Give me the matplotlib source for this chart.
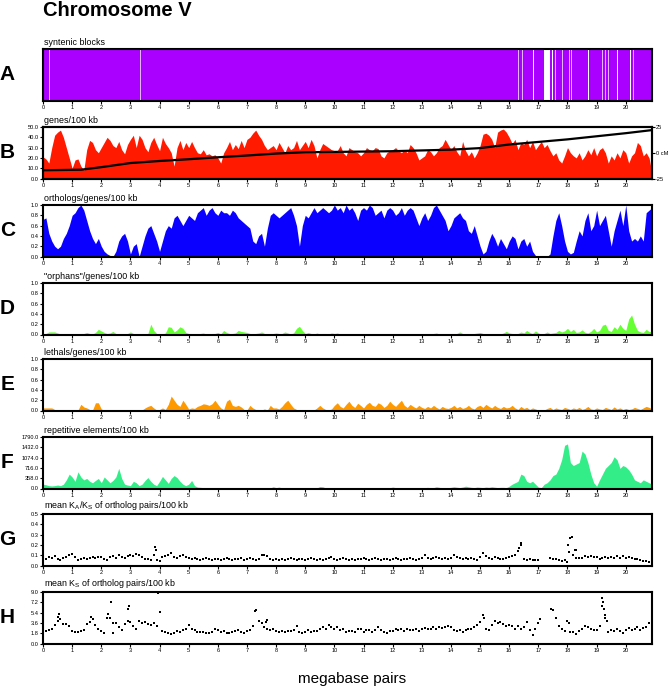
import numpy as np
import matplotlib
matplotlib.use("Agg")
from matplotlib import pyplot as plt

plt.rcParams['font.family'] = ['Liberation Sans', 'DejaVu Sans']
plt.rcParams['mathtext.default'] = 'regular'

# positions along chromosome, Mb (one bin every 100 kb)
mb = np.round(np.arange(0, 21.0, 0.1), 1)

# A: syntenic block breaks (start Mb, width Mb, full white or pale)
gap_start = [0.21, 1.05, 3.33, 16.31, 16.44, 16.83, 17.19, 17.46, 17.56, 17.80,
             18.04, 18.12, 18.21, 18.31, 18.70, 19.20, 19.28, 19.39, 19.69, 20.15, 20.26]
gap_width = [0.03, 0.03, 0.03, 0.03, 0.04, 0.03, 0.20, 0.03, 0.03, 0.03,
             0.03, 0.03, 0.03, 0.03, 0.04, 0.03, 0.03, 0.03, 0.03, 0.04, 0.03]
gap_pale = [1, 1, 1, 1, 1, 0, 0, 0, 1, 1,
            1, 1, 0, 0, 0, 1, 1, 1, 0, 0, 1]

# B: genes / 100 kb
genes = [21,19,15,30,42,45,47,40,30,20,
         10,18,19,12,8,28,37,35,28,25,
         30,35,40,37,32,30,36,28,24,33,
         38,42,30,42,38,30,26,35,40,33,
         27,40,34,30,25,12,30,37,28,35,
         30,36,30,25,24,28,23,24,22,23,
         20,15,25,30,36,28,33,29,37,30,
         38,40,44,47,42,38,32,28,30,32,
         28,35,30,25,32,28,30,37,28,32,
         36,30,38,32,20,28,34,32,30,28,
         27,27,32,25,22,30,28,26,25,22,
         25,30,28,27,30,29,22,20,25,27,
         28,30,27,25,28,25,33,30,25,18,
         20,22,28,26,22,25,30,32,38,33,
         28,32,26,22,36,27,22,26,20,25,
         32,43,44,42,38,30,45,47,48,45,
         40,34,38,28,35,33,38,30,36,28,
         32,36,30,33,27,22,25,18,15,22,
         30,25,22,20,25,18,22,28,23,30,
         22,28,30,25,15,22,18,25,20,28,
         25,15,22,25,35,32,22,25,20,5]

# genetic map, cM
map_mb = [0, 1.3, 2.0, 3.0, 4.0, 5.0, 6.0, 7.0, 8.0, 9.0, 10.0, 12.0, 14.0, 15.0,
          16.0, 17.0, 18.0, 19.0, 20.0, 20.9]
map_cm = [-17, -16.5, -14, -10, -8, -6.3, -4.4, -2.7, -0.8, 0.5, 0.8, 1.5, 3, 4.5,
          8, 10.5, 13, 16, 19, 22]

# C: orthologs / genes
orthologs = [.72,.75,.45,.30,.20,.15,.20,.35,.45,.60,
             .80,.85,.95,1.0,.90,.70,.50,.35,.25,.35,
             .20,.10,.05,.02,.00,.10,.30,.40,.45,.30,
             .05,.20,.25,.00,.20,.40,.55,.60,.45,.30,
             .10,.30,.50,.60,.55,.75,.80,.70,.60,.70,
             .80,.75,.70,.85,.90,.95,.80,.90,.95,.85,
             .80,.90,.85,.85,.80,.90,.85,.75,.70,.65,
             .60,.55,.30,.25,.40,.45,.20,.55,.80,.85,
             .80,.75,.80,.85,.90,.95,.80,.60,.20,.60,
             .80,.75,.85,.95,.85,.90,.95,.90,.85,.90,
             1.0,.90,.95,.85,1.0,.90,.95,.85,.70,.90,
             .95,.90,1.0,.95,.80,.85,.90,.75,.90,.95,
             .90,.80,.85,.95,.80,.90,.95,.90,.75,.60,
             .75,.85,.70,.80,.95,1.0,.90,.80,.70,.50,
             .60,.75,.80,.85,.75,.70,.50,.45,.60,.40,
             .20,.05,.10,.30,.45,.35,.20,.35,.25,.15,
             .30,.40,.35,.15,.30,.35,.20,.30,.10,.02,
             .01,0,0,0,.05,.40,.70,.85,.60,.30,
             .10,.05,.08,.30,.50,.40,.70,.85,.50,.60,
             .90,.60,.70,.80,.50,.20,.50,.70,.90,.60,
             1.0,.50,.30,.35,.30,.40,.30,.85,.90,.95]

# D: "orphans" / genes
orphans = [.00,.02,.05,.05,.05,.03,.01,.01,.01,.01,
           .01,.01,.01,.02,.02,.04,.02,.01,.04,.10,
           .07,.04,.02,.03,.06,.02,.01,.01,.01,.02,
           .05,.02,.01,.01,.01,.01,.02,.20,.08,.02,
           .01,.01,.03,.15,.14,.05,.09,.15,.12,.04,
           .02,.02,.01,.01,.02,.03,.01,.01,.02,.02,
           .04,.01,.08,.04,.02,.02,.03,.08,.06,.05,
           .04,.02,.01,.02,.03,.05,.02,.01,.02,.02,
           .03,.02,.02,.05,.03,.01,.03,.12,.16,.08,
           .02,.04,.02,.01,.03,.01,.02,.02,.01,.03,
           .02,.03,.01,.02,.01,.02,.01,.01,.02,.01,
           .01,.02,.01,.01,.02,.01,.01,.02,.01,.01,
           .02,.01,.01,.02,.01,.01,.02,.01,.01,.02,
           .01,.02,.01,.01,.02,.03,.01,.01,.02,.01,
           .02,.01,.02,.05,.02,.01,.02,.01,.02,.03,
           .04,.02,.01,.01,.02,.01,.02,.01,.03,.06,
           .03,.02,.01,.02,.05,.03,.08,.04,.02,.07,
           .03,.01,.02,.05,.02,.03,.04,.08,.05,.07,
           .12,.06,.10,.04,.05,.09,.04,.03,.06,.12,
           .05,.08,.18,.20,.08,.06,.15,.10,.20,.12,
           .08,.30,.38,.20,.08,.05,.04,.10,.06,.05]

# E: lethals / genes
lethals = [.05,.05,.05,.05,.02,.01,.01,.01,.01,.01,
           .01,.01,.01,.12,.07,.05,.02,.01,.15,.15,
           .03,.01,.01,.01,.01,.01,.02,.01,.01,.01,
           .01,.01,.01,.01,.01,.05,.08,.10,.05,.01,
           .02,.05,.02,.12,.28,.20,.12,.08,.20,.12,
           .03,.05,.04,.08,.10,.13,.12,.10,.13,.20,
           .12,.05,.02,.18,.22,.10,.08,.10,.07,.02,
           .01,.10,.05,.02,.02,.01,.03,.01,.10,.05,
           .05,.03,.08,.15,.20,.12,.05,.02,.01,.02,
           .01,.01,.01,.01,.05,.10,.05,.02,.01,.03,
           .10,.15,.08,.05,.12,.18,.10,.06,.14,.10,
           .05,.12,.16,.10,.08,.15,.12,.06,.10,.18,
           .12,.08,.14,.20,.10,.06,.12,.08,.05,.10,
           .06,.04,.08,.05,.10,.06,.03,.08,.05,.04,
           .06,.10,.05,.08,.04,.06,.10,.05,.03,.08,
           .10,.06,.12,.08,.05,.10,.06,.04,.08,.05,
           .06,.10,.05,.02,.08,.04,.06,.02,.05,.03,
           .01,.02,.01,.04,.06,.02,.05,.03,.02,.06,
           .04,.02,.05,.03,.06,.02,.04,.08,.03,.02,
           .05,.03,.02,.06,.04,.02,.07,.03,.05,.02,
           .04,.02,.03,.06,.04,.02,.05,.08,.06,.03]

# F: repetitive elements / 100 kb
repeats = [150,130,100,90,100,120,100,150,300,500,
           400,250,580,400,300,350,250,200,280,350,
           200,400,300,200,280,400,700,350,150,120,
           100,250,200,100,150,280,380,250,150,100,
           250,420,300,180,350,450,380,250,150,100,
           150,280,100,50,40,30,20,20,25,20,
           20,15,20,25,20,15,20,30,20,15,
           20,15,20,25,20,15,20,30,20,60,
           30,50,20,15,20,25,15,20,30,20,
           20,15,20,25,20,70,60,20,15,20,
           20,15,20,25,30,20,15,20,30,20,
           20,15,20,25,20,15,20,30,20,25,
           50,30,20,15,20,25,15,20,30,20,
           25,30,40,20,30,60,40,20,25,30,
           40,60,45,30,50,80,60,40,30,50,
           40,30,50,40,60,45,30,40,40,30,
           80,150,200,250,500,450,250,200,250,150,
           50,30,150,200,300,450,500,700,1000,1500,
           1550,900,800,850,900,1300,1200,900,500,200,
           80,300,500,700,800,900,1100,1000,700,800,
           750,650,500,300,250,200,300,250,200,150]

nan = np.nan
# G: mean KA/KS
kaks = [.07,.06,.08,.07,.09,.06,.05,.07,.08,.10,
        .11,.08,.05,.06,.07,.06,.07,.08,.07,.08,
        .08,.06,.05,.08,.09,.07,.10,.08,.07,.09,
        .10,.09,.11,.10,.08,.06,.06,.05,.10,.05,
        .04,.08,.09,.10,.12,.08,.07,.09,.10,.08,
        .07,.06,.07,.06,.05,.06,.07,.06,.05,.06,
        .06,.05,.06,.07,.06,.05,.06,.06,.07,.05,
        .06,.07,.06,.05,.06,.10,.10,.09,.06,.05,
        .06,.05,.06,.05,.06,.07,.06,.05,.06,.06,
        .05,.06,.07,.06,.05,.06,.05,.06,.07,.08,
        .06,.05,.06,.07,.06,.05,.06,.05,.06,.06,
        .07,.06,.05,.06,.07,.06,.05,.06,.06,.05,
        .06,.07,.06,.05,.06,.06,.07,.06,.05,.06,
        .07,.10,.07,.06,.07,.08,.07,.06,.07,.06,
        .07,.10,.08,.07,.06,.07,.06,.07,.06,.05,
        .08,.12,.09,.07,.06,.08,.07,.06,.06,.07,
        .08,.09,.10,.14,.20,.06,.05,.06,.05,.05,
        .05,nan,nan,nan,.07,.06,.06,.05,.04,.05,
        .03,.27,.10,.07,.07,.07,.09,.08,.09,.08,
        .08,.06,.07,.08,.07,.08,.07,.09,.07,.09,
        .07,.08,.07,.06,.06,.05,.04,.04,.03,.02]
kaks_x_extra = [3.85, 3.88, 16.35, 16.42, 18.02, 18.04, 18.14, 18.25, 18.28]
kaks_y_extra = [0.18, 0.15, 0.17, 0.22, 0.20, 0.13, 0.28, 0.15, 0.15]

# H: mean KS
ks = [2.1,2.1,2.3,2.5,3.2,4.0,4.3,3.4,3.4,3.0,
      2.2,2.0,2.0,2.2,2.4,3.4,3.8,4.3,3.2,2.5,
      2.1,1.8,4.5,4.4,3.5,3.6,2.8,2.4,3.4,4.0,
      3.8,3.0,2.5,4.0,3.5,3.7,3.4,3.2,3.5,3.0,
      5.5,2.2,2.0,1.8,1.6,1.9,2.2,2.0,2.3,2.5,
      3.2,2.6,2.3,2.0,2.0,2.0,1.9,1.8,2.0,2.5,
      2.3,2.0,2.1,1.9,1.9,2.0,2.2,2.3,2.0,1.9,
      2.2,2.3,3.0,5.8,4.0,3.5,2.8,2.5,2.3,2.6,
      2.2,2.0,2.1,2.0,2.2,2.1,2.3,3.0,2.0,1.8,
      2.0,2.3,2.0,2.1,2.2,2.6,2.8,2.5,3.2,2.8,
      2.5,2.8,2.4,2.5,2.0,2.2,2.2,2.0,2.5,2.6,
      2.0,2.3,2.4,2.0,2.3,2.9,2.3,2.0,1.9,2.1,
      2.2,2.5,2.4,2.5,2.2,2.6,2.4,2.3,2.6,2.2,
      2.5,2.7,2.5,2.6,2.8,2.6,2.9,2.7,2.9,3.0,
      2.8,2.3,2.1,2.4,2.0,2.3,2.5,2.6,2.8,3.2,
      3.8,5.0,2.5,2.4,3.2,4.0,3.6,3.8,3.4,3.0,
      3.2,3.0,2.6,3.0,2.5,2.8,3.8,2.4,1.5,2.5,
      3.5,nan,nan,nan,nan,5.9,4.5,3.0,2.5,2.2,
      4.0,2.0,2.0,1.6,2.2,2.6,3.1,2.8,2.6,2.4,
      2.3,3.0,8.0,4.5,2.0,2.4,2.2,2.5,2.2,1.9,
      2.4,2.7,2.3,2.6,2.9,2.4,2.7,2.9,3.5,2.8]
ks_x_extra = [0.55, 0.52, 1.65, 2.22, 2.35, 2.08, 2.4, 2.93, 2.96, 3.95, 7.28, 7.65, 7.68,
              15.12, 17.05, 17.45, 18.05, 19.18, 19.22, 19.25, 19.3, 19.35]
ks_y_extra = [5.2, 4.6, 4.6, 5.2, 7.3, 1.8, 1.8, 6.0, 6.5, 8.8, 5.6, 3.8, 4.1,
              4.4, 4.3, 6.0, 3.5, 6.5, 7.2, 6.0, 5.0, 4.0]

letters = ['A', 'B', 'C', 'D', 'E', 'F', 'G', 'H']
titles = ['syntenic blocks', 'genes/100 kb', 'orthologs/genes/100 kb',
          '"orphans"/genes/100 kb', 'lethals/genes/100 kb',
          'repetitive elements/100 kb',
          'mean K$_{A}$/K$_{S}$ of ortholog pairs/100 kb',
          'mean K$_{S}$ of ortholog pairs/100 kb']

W, H = 668, 688
fig = plt.figure(figsize=(W / 100, H / 100), dpi=100)

left = 43 / W
width = (652 - 43) / W
tops = [49, 127, 205, 283, 359, 437, 514, 592]
ph = 51.5

axes = []
for i, t in enumerate(tops):
    ax = fig.add_axes([left, 1 - (t + ph) / H, width, ph / H])
    axes.append(ax)
    ax.set_xlim(0, 20.9)
    ax.set_xticks(range(0, 21))
    ax.tick_params(axis='both', direction='out', length=2, width=0.8, pad=1, labelsize=4.1)
    for s in ax.spines.values():
        s.set_linewidth(1.5)
    ax.annotate(titles[i], xy=(0, 1), xycoords='axes fraction', xytext=(1, 1.5),
                textcoords='offset points', fontsize=6.4, va='bottom', ha='left')
    fig.text(7.5 / W, 1 - (t + ph / 2) / H, letters[i], fontsize=15, fontweight='bold',
             ha='center', va='center')

# A
ax = axes[0]
ax.axvspan(0, 20.9, color='#AA00FF', lw=0)
for s, w, p in zip(gap_start, gap_width, gap_pale):
    ax.axvspan(s, s + w, color='#E6B3FF' if p else 'white', lw=0)
ax.set_ylim(0, 1)
ax.set_yticks([])

# B
ax = axes[1]
ax.fill_between(mb, 0, genes, color='#FF1A00', lw=0)
ax.set_ylim(0, 50)
ax.set_yticks(np.arange(0, 51, 10))
ax.set_yticklabels(['%.1f' % v for v in np.arange(0, 51, 10)])
ax2 = ax.twinx()
ax2.plot(map_mb, map_cm, color='black', lw=1.6)
ax2.set_ylim(-25, 25)
ax2.set_yticks([-25, 0, 25])
ax2.set_yticklabels(['-25', '0 cM', '25'])
ax2.tick_params(axis='y', direction='out', length=2, width=0.8, pad=1, labelsize=4.1)
for s in ax2.spines.values():
    s.set_linewidth(1.5)

# C, D, E
for ax, vals, col in [(axes[2], orthologs, '#0A00FF'), (axes[3], orphans, '#66FF33'),
                      (axes[4], lethals, '#FF9900')]:
    ax.fill_between(mb, 0, vals, color=col, lw=0)
    ax.set_ylim(0, 1)
    ax.set_yticks(np.arange(0, 1.01, 0.2))
    ax.set_yticklabels(['%.1f' % v for v in np.arange(0, 1.01, 0.2)])

# F
ax = axes[5]
ax.fill_between(mb, 0, repeats, color='#33EE88', lw=0)
ax.set_ylim(0, 1790)
fticks = [0, 358, 716, 1074, 1432, 1790]
ax.set_yticks(fticks)
ax.set_yticklabels(['%.1f' % v for v in fticks])

# G
ax = axes[6]
ax.plot(mb, kaks, 's', color='black', ms=1.5, mew=0)
ax.plot(kaks_x_extra, kaks_y_extra, 's', color='black', ms=1.5, mew=0)
ax.set_ylim(0, 0.5)
ax.set_yticks(np.arange(0, 0.51, 0.1))
ax.set_yticklabels(['%.1f' % v for v in np.arange(0, 0.51, 0.1)])

# H
ax = axes[7]
ax.plot(mb, ks, 's', color='black', ms=1.5, mew=0)
ax.plot(ks_x_extra, ks_y_extra, 's', color='black', ms=1.5, mew=0)
ax.set_ylim(0, 9)
hticks = [0, 1.8, 3.6, 5.4, 7.2, 9.0]
ax.set_yticks(hticks)
ax.set_yticklabels(['%.1f' % v for v in hticks])

fig.text(43 / W, 1 - 16.5 / H, 'Chromosome V', fontsize=14.5, fontweight='bold',
         ha='left', va='baseline')
fig.text(352.5 / W, 1 - 683.5 / H, 'megabase pairs', fontsize=11, ha='center', va='baseline')

fig.savefig('out.png', dpi=100)
